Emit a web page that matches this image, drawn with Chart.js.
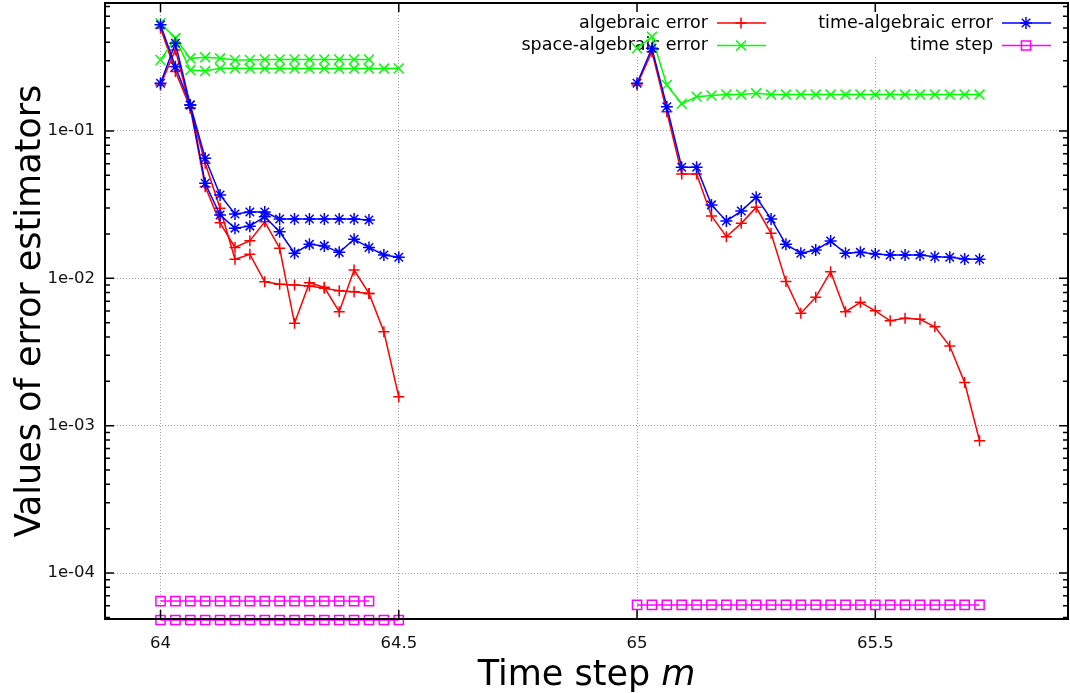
<!DOCTYPE html>
<html lang="en">
<head>
    <meta charset="UTF-8">
    <title>Values of error estimators</title>
    <script src="https://cdn.jsdelivr.net/npm/chart.js@4.4.1/dist/chart.umd.min.js"></script>
    <style>
        html, body { margin: 0; padding: 0; background: #fff; }
        #chart { display: block; }
    </style>
</head>
<body>

    <canvas id="chart" width="1070" height="693"></canvas>

    <script>

    // time levels of the three runs (dt = 1/32)
    const timesA = [64, 64.03125, 64.0625, 64.09375, 64.125, 64.15625, 64.1875, 64.21875, 64.25,
        64.28125, 64.3125, 64.34375, 64.375, 64.40625, 64.4375];
    const timesB = [64, 64.03125, 64.0625, 64.09375, 64.125, 64.15625, 64.1875, 64.21875, 64.25,
        64.28125, 64.3125, 64.34375, 64.375, 64.40625, 64.4375, 64.46875, 64.5];
    const timesC = [65, 65.03125, 65.0625, 65.09375, 65.125, 65.15625, 65.1875, 65.21875, 65.25,
        65.28125, 65.3125, 65.34375, 65.375, 65.40625, 65.4375, 65.46875, 65.5, 65.53125,
        65.5625, 65.59375, 65.625, 65.65625, 65.6875, 65.71875];

    // run A
    const algA = [0.205, 0.355, 0.143, 0.0604, 0.0299, 0.01346, 0.01455, 0.00948, 0.0091, 0.0090,
        0.00887, 0.00855, 0.00824, 0.00811, 0.0079];
    const spaceA = [0.303, 0.426, 0.311, 0.316, 0.311, 0.303, 0.303, 0.306, 0.306, 0.306, 0.306,
        0.306, 0.306, 0.306, 0.306];
    const timeAlgA = [0.211, 0.394, 0.150, 0.0653, 0.0368, 0.0273, 0.0282, 0.0282, 0.0253, 0.0253,
        0.0253, 0.0253, 0.0253, 0.0253, 0.0249];
    const stepA = [6.45e-5, 6.45e-5, 6.45e-5, 6.45e-5, 6.45e-5, 6.45e-5, 6.45e-5, 6.45e-5, 6.45e-5,
        6.45e-5, 6.45e-5, 6.45e-5, 6.45e-5, 6.45e-5, 6.45e-5];

    // run B
    const algB = [0.50, 0.253, 0.143, 0.0419, 0.0238, 0.0162, 0.0180, 0.0242, 0.0160, 0.00495,
        0.00933, 0.00869, 0.00593, 0.01138, 0.0079, 0.00434, 0.00157];
    const spaceB = [0.538, 0.426, 0.259, 0.255, 0.266, 0.266, 0.265, 0.265, 0.265, 0.265, 0.265,
        0.265, 0.265, 0.265, 0.265, 0.265, 0.266];
    const timeAlgB = [0.525, 0.273, 0.150, 0.0442, 0.0269, 0.0219, 0.0226, 0.0262, 0.0207, 0.0148,
        0.0170, 0.0166, 0.0150, 0.0184, 0.0162, 0.0144, 0.0139];
    const stepB = [4.8e-5, 4.8e-5, 4.8e-5, 4.8e-5, 4.8e-5, 4.8e-5, 4.8e-5, 4.8e-5, 4.8e-5, 4.8e-5,
        4.8e-5, 4.8e-5, 4.8e-5, 4.8e-5, 4.8e-5, 4.8e-5, 4.8e-5];

    // run C
    const algC = [0.205, 0.345, 0.135, 0.0511, 0.0511, 0.0265, 0.01916, 0.0236, 0.0303, 0.0202,
        0.0095, 0.00579, 0.00743, 0.0111, 0.00593, 0.00687, 0.00602, 0.00515, 0.00535, 0.00527,
        0.00469, 0.00347, 0.00196, 0.00079];
    const spaceC = [0.364, 0.436, 0.205, 0.153, 0.171, 0.174, 0.1765, 0.1765, 0.180, 0.1765,
        0.1765, 0.1765, 0.1765, 0.1765, 0.1765, 0.1765, 0.1765, 0.1765, 0.1765, 0.1765, 0.1765,
        0.1765, 0.1765, 0.1765];
    const timeAlgC = [0.211, 0.364, 0.146, 0.0567, 0.0567, 0.0315, 0.0245, 0.0286, 0.0355, 0.0253,
        0.0170, 0.0148, 0.01557, 0.0179, 0.0148, 0.0150, 0.01462, 0.01439, 0.01439, 0.01439,
        0.01402, 0.0139, 0.01352, 0.01346];
    const stepC = [6.07e-5, 6.07e-5, 6.07e-5, 6.07e-5, 6.07e-5, 6.07e-5, 6.07e-5, 6.07e-5, 6.07e-5,
        6.07e-5, 6.07e-5, 6.07e-5, 6.07e-5, 6.07e-5, 6.07e-5, 6.07e-5, 6.07e-5, 6.07e-5, 6.07e-5,
        6.07e-5, 6.07e-5, 6.07e-5, 6.07e-5, 6.07e-5];

    // axis ticks
    const xTickValues = [64, 64.5, 65, 65.5];
    const xTickLabels = ['64', '64.5', '65', '65.5'];
    const yTickValues = [1e-4, 1e-3, 1e-2, 1e-1];
    const yTickLabels = ['1e-04', '1e-03', '1e-02', '1e-01'];

    // one entry per key line
    const series = [
        { label: 'algebraic error', color: '#ff0000', style: 'cross', radius: 5.5, order: 4 },
        { label: 'space-algebraic error', color: '#00ff00', style: 'crossRot', radius: 7, order: 3 },
        { label: 'time-algebraic error', color: '#0000ff', style: 'star', radius: 6, order: 2 },
        { label: 'time step', color: '#ff00ff', style: 'rect', radius: 6.5, order: 1 }
    ];

    const runs = [
        { times: timesA, values: [algA, spaceA, timeAlgA, stepA] },
        { times: timesB, values: [algB, spaceB, timeAlgB, stepB] },
        { times: timesC, values: [algC, spaceC, timeAlgC, stepC] }
    ];

    const FONT = '"DejaVu Sans", sans-serif';

    const datasets = [];
    runs.forEach(run => {
        series.forEach((s, k) => {
            datasets.push({
                label: s.label,
                data: run.times.map((t, i) => ({ x: t, y: run.values[k][i] })),
                borderColor: s.color,
                backgroundColor: 'rgba(0,0,0,0)',
                borderWidth: 1.5,
                pointStyle: s.style,
                pointRadius: s.radius,
                pointBorderColor: s.color,
                pointBackgroundColor: 'rgba(0,0,0,0)',
                pointBorderWidth: 1.5,
                tension: 0,
                clip: false,
                order: s.order
            });
        });
    });

    // gnuplot-like key: text right aligned, sample after it, white box under it
    const keyPlugin = {
        id: 'key',
        beforeDatasetsDraw(chart) {
            const ctx = chart.ctx;
            const textRight = [708, 993];
            const rowY = [23, 45.5];
            ctx.save();
            ctx.fillStyle = '#fff';
            ctx.fillRect(512, 4, 555, 52);
            ctx.font = '17.5px ' + FONT;
            ctx.textAlign = 'right';
            ctx.textBaseline = 'middle';
            series.forEach((s, i) => {
                const col = Math.floor(i / 2);
                const y = rowY[i % 2];
                const x0 = textRight[col];
                ctx.fillStyle = '#000';
                ctx.fillText(s.label, x0, y);
                ctx.strokeStyle = s.color;
                ctx.lineWidth = 1.5;
                ctx.beginPath();
                ctx.moveTo(x0 + 9, y);
                ctx.lineTo(x0 + 58, y);
                ctx.stroke();
                ctx.fillStyle = 'rgba(0,0,0,0)';
                Chart.helpers.drawPoint(ctx, { pointStyle: s.style, radius: s.radius, rotation: 0, borderWidth: 1.5 }, x0 + 33, y);
            });
            ctx.restore();
        }
    };

    // frame, inward ticks and axis titles
    const framePlugin = {
        id: 'frame',
        afterDraw(chart) {
            const ctx = chart.ctx;
            const a = chart.chartArea;
            const xs = chart.scales.x;
            const ys = chart.scales.y;
            ctx.save();
            ctx.strokeStyle = '#000';
            ctx.lineWidth = 1.5;
            ctx.beginPath();
            xTickValues.forEach(v => {
                const px = xs.getPixelForValue(v);
                ctx.moveTo(px, a.bottom); ctx.lineTo(px, a.bottom - 9);
                ctx.moveTo(px, a.top); ctx.lineTo(px, a.top + 9);
            });
            for (let d = -5; d <= 0; d++) {
                for (let m = 1; m <= 9; m++) {
                    const v = m * Math.pow(10, d);
                    if (v < ys.min || v > ys.max) continue;
                    const py = ys.getPixelForValue(v);
                    const len = m === 1 ? 9 : 5;
                    ctx.moveTo(a.left, py); ctx.lineTo(a.left + len, py);
                    ctx.moveTo(a.right, py); ctx.lineTo(a.right - len, py);
                }
            }
            ctx.stroke();
            ctx.lineWidth = 2;
            ctx.strokeRect(a.left, a.top, a.right - a.left, a.bottom - a.top);

            // y title
            ctx.fillStyle = '#000';
            ctx.font = '35px ' + FONT;
            ctx.textAlign = 'center';
            ctx.textBaseline = 'alphabetic';
            ctx.save();
            ctx.translate(39.5, (a.top + a.bottom) / 2);
            ctx.rotate(-Math.PI / 2);
            ctx.fillText('Values of error estimators', 0, 0);
            ctx.restore();

            // x title with italic m
            const part1 = 'Time step ';
            const part2 = 'm';
            ctx.font = '35px ' + FONT;
            const w1 = ctx.measureText(part1).width;
            ctx.font = 'italic 35px ' + FONT;
            const w2 = ctx.measureText(part2).width;
            const start = (a.left + a.right) / 2 - (w1 + w2) / 2;
            ctx.textAlign = 'left';
            ctx.font = '35px ' + FONT;
            ctx.fillText(part1, start, 685);
            ctx.font = 'italic 35px ' + FONT;
            ctx.fillText(part2, start + w1, 685);
            ctx.restore();
        }
    };

    const ctx = document.getElementById('chart').getContext('2d');

    const myChart = new Chart(ctx, {
        type: 'line',
        data: { datasets: datasets },
        plugins: [keyPlugin, framePlugin],
        options: {
            responsive: false,
            animation: false,
            devicePixelRatio: 1,
            layout: { autoPadding: false, padding: { top: 3, right: 2, left: 0, bottom: 0 } },
            plugins: {
                legend: { display: false },
                tooltip: { enabled: false }
            },
            scales: {
                x: {
                    type: 'linear',
                    min: 63.8835,
                    max: 65.9044,
                    afterBuildTicks: scale => { scale.ticks = xTickValues.map(v => ({ value: v })); },
                    afterFit: scale => {
                        scale.height = 74;
                        scale.paddingLeft = 0;
                        scale.paddingRight = 0;
                    },
                    ticks: {
                        callback: (value, index) => xTickLabels[index],
                        font: { family: FONT, size: 16.5 },
                        color: '#111',
                        padding: 15,
                        maxRotation: 0,
                        autoSkip: false
                    },
                    grid: { color: '#a0a0a0', lineWidth: 1, drawTicks: false },
                    border: { display: false, dash: [1, 2] }
                },
                y: {
                    type: 'logarithmic',
                    min: 4.875e-5,
                    max: 0.7386,
                    afterBuildTicks: scale => { scale.ticks = yTickValues.map(v => ({ value: v })); },
                    afterFit: scale => {
                        scale.width = 105;
                        scale.paddingTop = 0;
                        scale.paddingBottom = 0;
                    },
                    ticks: {
                        callback: (value, index) => yTickLabels[index],
                        font: { family: FONT, size: 16.5 },
                        color: '#111',
                        padding: 10,
                        autoSkip: false
                    },
                    grid: { color: '#a0a0a0', lineWidth: 1, drawTicks: false },
                    border: { display: false, dash: [1, 2] }
                }
            }
        }
    });

    </script>

</body>
</html>
